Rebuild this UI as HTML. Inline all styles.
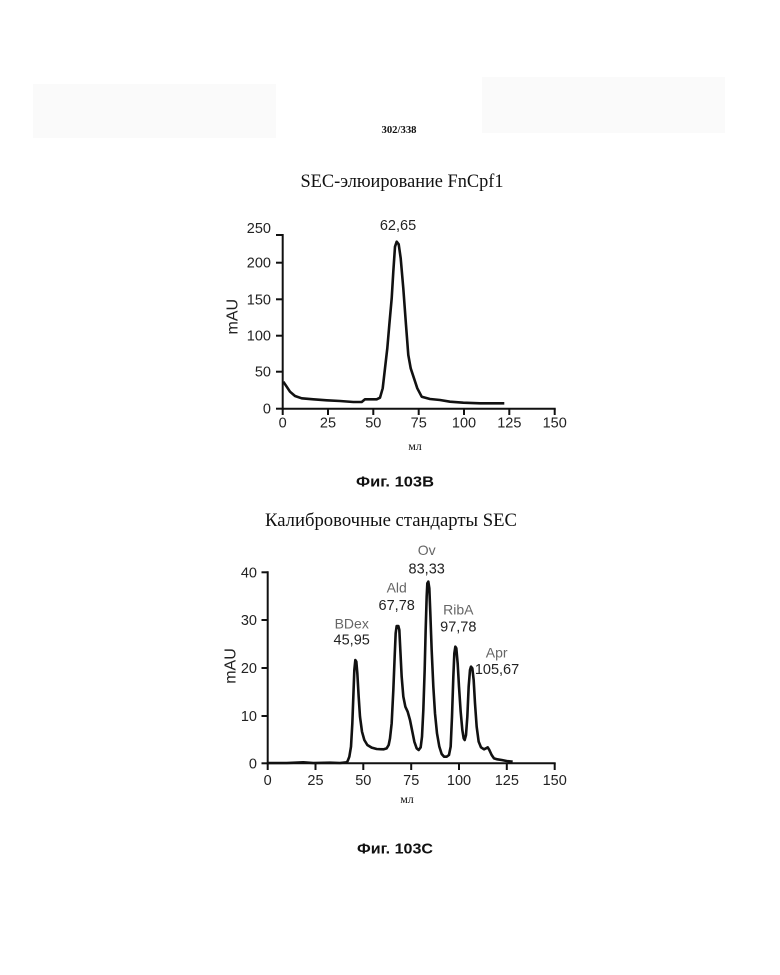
<!DOCTYPE html>
<html><head><meta charset="utf-8"><style>
html,body{margin:0;padding:0;background:#fff;}
svg{display:block;}
.t{font-family:"Liberation Sans",Arial,sans-serif;font-size:14.5px;fill:#222;}
.n{font-family:"Liberation Sans",Arial,sans-serif;font-size:14px;fill:#666;}
.s{font-family:"Liberation Serif","Noto Serif CJK SC",serif;fill:#111;}
</style></head><body>
<svg width="780" height="975" viewBox="0 0 780 975" xmlns="http://www.w3.org/2000/svg">
<rect x="0" y="0" width="780" height="975" fill="#fff"/>
<rect x="33" y="84" width="243" height="54" fill="#fafafa"/>
<rect x="482" y="77" width="243" height="56" fill="#fafafa"/>
<text x="399" y="133" text-anchor="middle" class="s" style="font-size:11px;font-weight:bold" textLength="35" lengthAdjust="spacingAndGlyphs">302/338</text>
<text x="402" y="187" text-anchor="middle" class="s" style="font-size:19px" textLength="203" lengthAdjust="spacingAndGlyphs">SEC-элюирование FnCpf1</text>

<!-- Chart 1 -->
<g stroke="#111" stroke-width="2" fill="none">
<line x1="282.7" y1="234" x2="282.7" y2="409.7"/>
<line x1="281.7" y1="408.7" x2="555.7" y2="408.7"/>
<line x1="276" y1="235" x2="282.7" y2="235"/>
<line x1="276" y1="262.7" x2="282.7" y2="262.7"/>
<line x1="276" y1="299.3" x2="282.7" y2="299.3"/>
<line x1="276" y1="335.7" x2="282.7" y2="335.7"/>
<line x1="276" y1="371.7" x2="282.7" y2="371.7"/>
<line x1="276" y1="408.7" x2="282.7" y2="408.7"/>
<line x1="282.7" y1="408.7" x2="282.7" y2="415"/>
<line x1="328" y1="408.7" x2="328" y2="415"/>
<line x1="373.3" y1="408.7" x2="373.3" y2="415"/>
<line x1="418.7" y1="408.7" x2="418.7" y2="415"/>
<line x1="464" y1="408.7" x2="464" y2="415"/>
<line x1="509.3" y1="408.7" x2="509.3" y2="415"/>
<line x1="554.7" y1="408.7" x2="554.7" y2="415"/>
</g>
<g class="t" text-anchor="end">
<text x="271" y="233">250</text>
<text x="271" y="267.7">200</text>
<text x="271" y="304.3">150</text>
<text x="271" y="340.7">100</text>
<text x="271" y="376.7">50</text>
<text x="271" y="413.7">0</text>
</g>
<g class="t" text-anchor="middle">
<text x="282.7" y="427.7">0</text>
<text x="328" y="427.7">25</text>
<text x="373.3" y="427.7">50</text>
<text x="418.7" y="427.7">75</text>
<text x="464" y="427.7">100</text>
<text x="509.3" y="427.7">125</text>
<text x="554.7" y="427.7">150</text>
<text x="398" y="230">62,65</text>
</g>
<text transform="translate(237.5,316.7) rotate(-90)" text-anchor="middle" class="t" style="font-size:16px">mAU</text>
<text x="415" y="450" text-anchor="middle" class="s" style="font-size:12px">мл</text>
<polyline fill="none" stroke="#111" stroke-width="2.6" stroke-linejoin="round" points="283.3,381.7 286.7,386.7 290,391.7 295,396 301.7,398.3 313.3,399.3 326.7,400.3 340,401 353.3,402 361.7,402 365,399.3 370,399.3 376.7,399.3 380,397.7 382.7,388.3 385,368.3 387.3,348.3 389.3,325 391.7,298.3 393.3,271.7 395,246.7 396.7,241.7 398.7,244.3 400.7,258.3 403.3,288.3 406,325 408.3,355 410.7,368.3 414,378.3 417.3,388.3 421.7,396.7 430,399 440,400 450,401.7 463.3,402.7 480,403.3 504.3,403.3"/>

<text x="395" y="481.7" text-anchor="middle" style="font-family:'Liberation Sans',Arial,sans-serif;font-size:15px;font-weight:bold;fill:#111" dy="5" textLength="78" lengthAdjust="spacingAndGlyphs">Фиг. 103B</text>
<text x="391" y="526" text-anchor="middle" class="s" style="font-size:19px" textLength="252" lengthAdjust="spacingAndGlyphs">Калибровочные стандарты SEC</text>

<!-- Chart 2 -->
<g stroke="#111" stroke-width="2" fill="none">
<line x1="267.7" y1="571.3" x2="267.7" y2="764.3"/>
<line x1="266.7" y1="763.3" x2="555.7" y2="763.3"/>
<line x1="261.5" y1="572.3" x2="267.7" y2="572.3"/>
<line x1="261.5" y1="620" x2="267.7" y2="620"/>
<line x1="261.5" y1="668" x2="267.7" y2="668"/>
<line x1="261.5" y1="716" x2="267.7" y2="716"/>
<line x1="261.5" y1="763.3" x2="267.7" y2="763.3"/>
<line x1="267.7" y1="763.3" x2="267.7" y2="770"/>
<line x1="315.5" y1="763.3" x2="315.5" y2="770"/>
<line x1="363.3" y1="763.3" x2="363.3" y2="770"/>
<line x1="411.2" y1="763.3" x2="411.2" y2="770"/>
<line x1="459" y1="763.3" x2="459" y2="770"/>
<line x1="506.8" y1="763.3" x2="506.8" y2="770"/>
<line x1="554.7" y1="763.3" x2="554.7" y2="770"/>
</g>
<g class="t" text-anchor="end">
<text x="257" y="577.3">40</text>
<text x="257" y="625">30</text>
<text x="257" y="673">20</text>
<text x="257" y="721">10</text>
<text x="257" y="768.3">0</text>
</g>
<g class="t" text-anchor="middle">
<text x="267.7" y="785">0</text>
<text x="315.5" y="785">25</text>
<text x="363.3" y="785">50</text>
<text x="411.2" y="785">75</text>
<text x="459" y="785">100</text>
<text x="506.8" y="785">125</text>
<text x="554.7" y="785">150</text>
<text x="426.7" y="573.3">83,33</text>
<text x="396.7" y="610">67,78</text>
<text x="351.7" y="644.3">45,95</text>
<text x="458.3" y="631.7">97,78</text>
<text x="497" y="674">105,67</text>
</g>
<g class="n" text-anchor="middle">
<text x="426.7" y="555">Ov</text>
<text x="396.7" y="592.3">Ald</text>
<text x="351.7" y="628.3">BDex</text>
<text x="458.3" y="614.3">RibA</text>
<text x="496.7" y="657.3">Apr</text>
</g>
<text transform="translate(235.5,666) rotate(-90)" text-anchor="middle" class="t" style="font-size:16px">mAU</text>
<text x="407" y="803" text-anchor="middle" class="s" style="font-size:12px">мл</text>
<g transform="translate(220,530) scale(0.33333)">
<polyline fill="none" stroke="#111" stroke-width="7.8" stroke-linejoin="round" points="143,699 200,699 250,697 280,699 330,698 360,699 380,697 383,693 388,680 393,650 397,580 400,500 403,420 406,390 409,395 412,430 416,500 420,560 426,605 433,630 442,645 455,653 470,657 490,658 500,655 506,645 510,625 515,580 520,480 524,380 527,310 530,288 535,288 538,300 541,360 545,440 550,500 556,530 563,545 570,570 577,605 583,635 590,655 596,660 602,652 606,620 610,540 614,420 617,300 620,200 622,160 625,155 628,175 631,250 635,360 640,470 645,550 651,610 658,650 665,672 672,680 680,680 687,675 692,650 696,560 700,440 703,370 706,350 709,355 713,400 717,470 722,545 727,600 731,625 734,630 738,615 742,560 746,470 750,420 753,410 757,415 761,450 765,520 770,590 776,635 783,652 792,658 798,655 803,652 808,660 815,675 822,685 832,688 845,690 860,693 878,695"/>
</g>

<text x="395" y="848.3" text-anchor="middle" style="font-family:'Liberation Sans',Arial,sans-serif;font-size:15px;font-weight:bold;fill:#111" dy="5" textLength="76" lengthAdjust="spacingAndGlyphs">Фиг. 103C</text>
</svg>
</body></html>
